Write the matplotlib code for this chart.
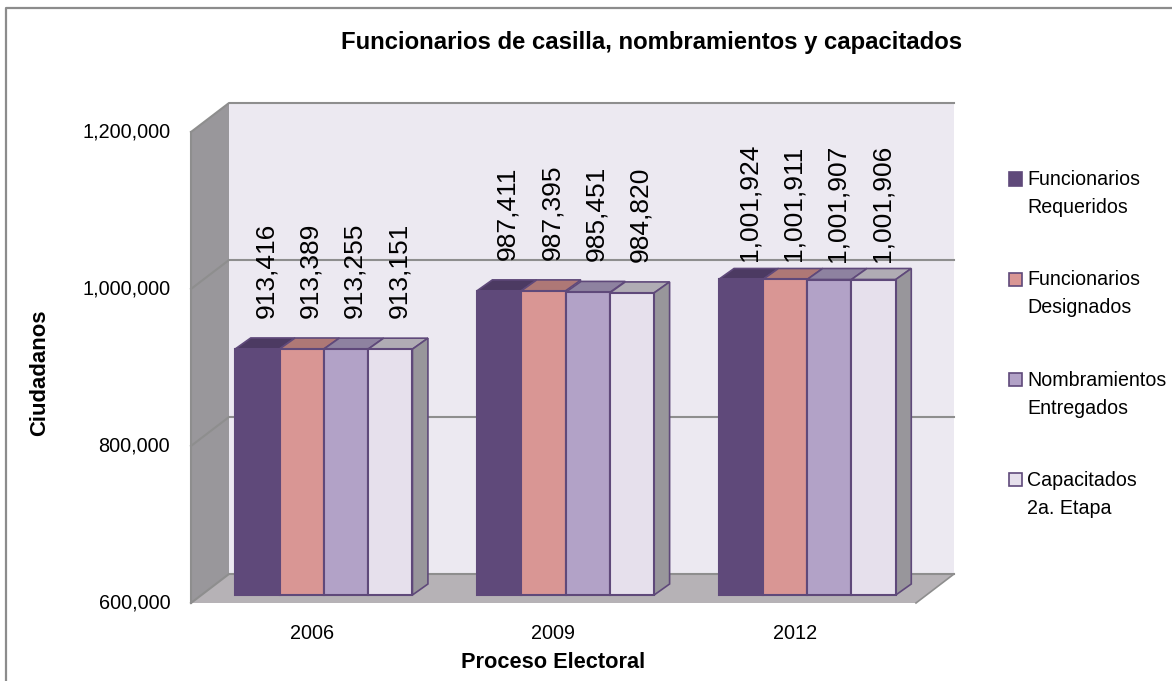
import matplotlib
matplotlib.use("Agg")
import matplotlib.pyplot as plt
from matplotlib.patches import Polygon, Rectangle
from matplotlib.legend_handler import HandlerPatch

years = ["2006", "2009", "2012"]
series_names = ["Funcionarios\nRequeridos", "Funcionarios\nDesignados",
                "Nombramientos\nEntregados", "Capacitados\n2a. Etapa"]
requeridos = [913416, 987411, 1001924]
designados = [913389, 987395, 1001911]
nombramientos = [913255, 985451, 1001907]
capacitados = [913151, 984820, 1001906]
series = [requeridos, designados, nombramientos, capacitados]
y_ticks = [600000, 800000, 1000000, 1200000]
face_colors = ["#5F497A", "#D99694", "#B2A2C7", "#E6E0EC"]
top_colors = ["#4C3A62", "#AE7876", "#8E82A0", "#B0ACB4"]
edge_color = "#5F497A"
side_color = "#98969B"
wall_color = "#ECE9F1"
left_wall_color = "#99979B"
floor_color = "#B6B2B6"
line_color = "#8E8E8E"

plt.rcParams["font.family"] = ["Liberation Sans", "DejaVu Sans"]

W, H = 1172, 681
fig = plt.figure(figsize=(W / 100, H / 100), dpi=100, facecolor="white")
L, R, T, B = 191, 916, 132, 603
ax = fig.add_axes([L / W, 1 - B / H, (R - L) / W, (B - T) / H])
ax.set_xlim(0, 3)
ax.set_ylim(600000, 1200000)
ax.patch.set_visible(False)
for s in ax.spines.values():
    s.set_visible(False)
DX = 3 / (R - L)
DY = 600000 / (B - T)

# chart frame (left and top only)
fig.add_artist(plt.Line2D([6 / W, 6 / W, 1], [0, 1 - 8 / H, 1 - 8 / H], color="#8C8C8C", lw=1.6))

wdx, wdy = 38 * DX, 29 * DY
ymin, ymax = y_ticks[0], y_ticks[-1]
nc = dict(clip_on=False)
ax.add_patch(Polygon([(wdx, ymin + wdy), (3 + wdx, ymin + wdy), (3 + wdx, ymax + wdy), (wdx, ymax + wdy)],
                     fc=wall_color, ec="none", zorder=1, **nc))
ax.add_patch(Polygon([(0, ymin), (wdx, ymin + wdy), (wdx, ymax + wdy), (0, ymax)],
                     fc=left_wall_color, ec="none", zorder=1, **nc))
ax.add_patch(Polygon([(0, ymin), (3, ymin), (3 + wdx, ymin + wdy), (wdx, ymin + wdy)],
                     fc=floor_color, ec="none", zorder=1, **nc))
for v in y_ticks:
    ax.plot([0, wdx, 3 + wdx], [v, v + wdy, v + wdy], color=line_color, lw=1.5, zorder=2, **nc)
ax.plot([0, 0], [ymin, ymax], color=line_color, lw=1.5, zorder=2, **nc)
ax.plot([3, 3 + wdx], [ymin, ymin + wdy], color=line_color, lw=1.2, zorder=2, **nc)

bw = 44.3 * DX
ox, oy = 12 * DX, 8 * DY
bdx, bdy = 15.5 * DX, 11 * DY
n = len(series)
gaps = [31, 31, 18]
for j, vals in enumerate(series):
    for i, v in enumerate(vals):
        x0 = i + 0.5 + ox + (j - n / 2) * bw
        base = ymin + oy
        top = v + oy - 0
        ax.bar(x0, top - base, bw, bottom=base, align="edge", color=face_colors[j],
               edgecolor=edge_color, lw=1.5, zorder=4, **nc)
        ax.add_patch(Polygon([(x0, top), (x0 + bw, top), (x0 + bw + bdx, top + bdy), (x0 + bdx, top + bdy)],
                             fc=top_colors[j], ec=edge_color, lw=1.2, zorder=3.5, **nc))
        if j == n - 1:
            ax.add_patch(Polygon([(x0 + bw, base), (x0 + bw + bdx, base + bdy), (x0 + bw + bdx, top + bdy), (x0 + bw, top)],
                                 fc=side_color, ec=edge_color, lw=1.2, zorder=3.5, **nc))
        ax.text(x0 + bw / 2 + 8.5 * DX, top + gaps[i] * DY, f"{v:,}", rotation=90, ha="center", va="bottom",
                fontsize=19, color="black", zorder=6, **nc)

ax.set_yticks(y_ticks)
ax.set_yticklabels([f"{v:,}" for v in y_ticks], fontsize=14.3, va="center")
ax.set_xticks([i + 0.5 for i in range(3)])
ax.set_xticklabels(years, fontsize=14.3)
ax.tick_params(axis="both", length=0)
ax.tick_params(axis="y", pad=15)
ax.tick_params(axis="x", pad=15)

fig.text(652 / W, 1 - 42 / H, "Funcionarios de casilla, nombramientos y capacitados", ha="center", va="center",
         fontsize=17.2, fontweight="bold")
fig.text(553 / W, 1 - 662 / H, "Proceso Electoral", ha="center", va="center", fontsize=15.7, fontweight="bold")
fig.text(40 / W, 1 - 373 / H, "Ciudadanos", ha="center", va="center", rotation=90, fontsize=15.9, fontweight="bold")

def square(legend, orig_handle, xdescent, ydescent, width, height, fontsize):
    return Rectangle((0, height + 2.2), 9.4, 9.4)

handles = [Rectangle((0, 0), 1, 1, fc=c, ec=edge_color, lw=1.2) for c in face_colors]
leg = fig.legend(handles, series_names, loc="upper left", bbox_to_anchor=(1009 / W, 1 - 170 / H),
                 frameon=False, fontsize=14.1, labelspacing=2.72, handlelength=0.67, handleheight=0.6,
                 handletextpad=0.26, borderpad=0, borderaxespad=0,
                 handler_map={Rectangle: HandlerPatch(patch_func=square)})
for t in leg.get_texts():
    t.set_linespacing(1.6)

fig.savefig("out.png", dpi=100)
